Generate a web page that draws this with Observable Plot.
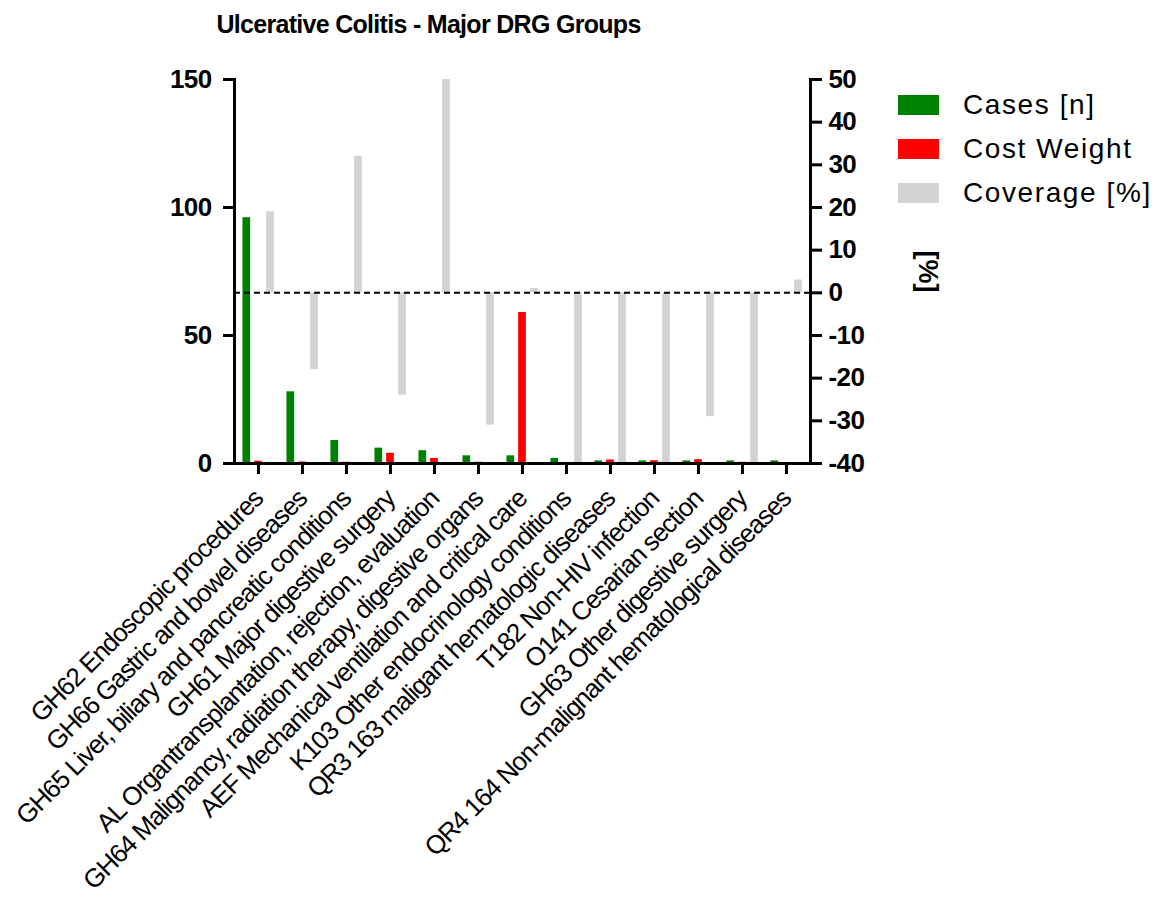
<!DOCTYPE html>
<html>
<head>
<meta charset="utf-8">
<script src="https://cdn.jsdelivr.net/npm/d3@7"></script>
<script src="https://cdn.jsdelivr.net/npm/@observablehq/plot@0.6"></script>
<style>
  html, body { margin: 0; padding: 0; background: #fff; }
  body { width: 1157px; height: 901px; position: relative; overflow: hidden; font-family: "Liberation Sans", Arial, sans-serif; }
  #title { position: absolute; left: 0; width: 857px; top: 12px; text-align: center; font-size: 25px; line-height: 25px; letter-spacing: -0.7px; font-weight: bold; color: #000; }
  #chart { position: absolute; left: 0; top: 0; }
  .sw { position: absolute; left: 898px; width: 41px; height: 20px; }
  .lt { position: absolute; left: 963px; font-size: 28px; line-height: 28px; letter-spacing: 1.6px; color: #000; white-space: nowrap; }
  g[aria-label="x-axis tick label"] text { letter-spacing: -1.2px; }
  g[aria-label="y-axis tick label"] text { letter-spacing: -0.6px; }
</style>
</head>
<body>
<div id="title">Ulcerative Colitis - Major DRG Groups</div>
<div id="chart"></div>
<div id="legend"></div>
<script>
const categories = [
  "GH62 Endoscopic procedures",
  "GH66 Gastric and bowel diseases",
  "GH65 Liver, biliary and pancreatic conditions",
  "GH61 Major digestive surgery",
  "AL Organtransplantation, rejection, evaluation",
  "GH64 Malignancy, radiation therapy, digestive organs",
  "AEF Mechanical ventilation and critical care",
  "K103 Other endocrinology conditions",
  "QR3 163 maligant hematologic diseases",
  "T182 Non-HIV infection",
  "O141 Cesarian section",
  "GH63 Other digestive surgery",
  "QR4 164 Non-malignant hematological diseases"
];
const cases      = [96, 28, 9, 6, 5, 3, 3, 2, 1, 1, 1, 1, 1];
const costWeight = [0.9, 0.6, 0.5, 4, 2, 0.5, 59, 0.4, 1.4, 1.1, 1.5, 0.5, 0.3];
const coverage   = [19, -18, 32, -24, 50, -31, 1, -40, -40, -40, -29, -40, 3];

const leftTicks  = [0, 50, 100, 150];
const rightTicks = [-40, -30, -20, -10, 0, 10, 20, 30, 40, 50];

const seriesNames  = ["Cases [n]", "Cost Weight", "Coverage [%]"];
const seriesColors = ["#008000", "#ff0000", "#d3d3d3"];

// map right-axis (%) values onto the left-axis scale domain
const leftMin = 0, leftMax = 150, rightMin = -40, rightMax = 50;
const toLeft = v => leftMin + (v - rightMin) * (leftMax - leftMin) / (rightMax - rightMin);
const fromLeft = y => Math.round(rightMin + (y - leftMin) * (rightMax - rightMin) / (leftMax - leftMin));

const rows = categories.map((c, i) => ({cat: c, cases: cases[i], cost: costWeight[i], cov: coverage[i]}));

const W = 1157, H = 901;
const mL = 234, mR = W - 810, mT = 79, mB = H - 463;
const band = (W - mL - mR) / categories.length;
const barW = 8;
const inset = (band - barW) / 2;

const font = "Liberation Sans, Arial, sans-serif";

const plot = Plot.plot({
  width: W,
  height: H,
  marginLeft: mL,
  marginRight: mR,
  marginTop: mT,
  marginBottom: mB,
  style: {fontFamily: font, color: "#000", background: "transparent"},
  x: {type: "band", domain: categories, padding: 0},
  y: {domain: [leftMin, leftMax]},
  marks: [
    Plot.barY(rows, {x: "cat", y1: () => toLeft(0), y2: d => toLeft(d.cov), fill: seriesColors[2], insetLeft: inset, insetRight: inset, dx: 12}),
    Plot.barY(rows, {x: "cat", y: "cases", fill: seriesColors[0], insetLeft: inset, insetRight: inset, dx: -11.7}),
    Plot.barY(rows, {x: "cat", y: "cost", fill: seriesColors[1], insetLeft: inset, insetRight: inset, dx: 0}),
    Plot.ruleY([toLeft(0)], {stroke: "#000", strokeWidth: 2, strokeDasharray: "6,4"}),
    Plot.ruleY([0], {stroke: "#000", strokeWidth: 3}),
    Plot.frame({anchor: "left", stroke: "#000", strokeWidth: 3}),
    Plot.frame({anchor: "right", stroke: "#000", strokeWidth: 3}),
    Plot.axisY(leftTicks, {anchor: "left", tickSize: 11, tickPadding: 12, strokeWidth: 3, fontSize: 26, fontWeight: "bold", label: null}),
    Plot.axisY(rightTicks.map(toLeft), {anchor: "right", tickSize: 11, tickPadding: 7, strokeWidth: 3, fontSize: 26, fontWeight: "bold", tickFormat: d => String(fromLeft(d)), label: null}),
    Plot.axisX({anchor: "bottom", tickSize: 11, strokeWidth: 3, tickRotate: -45, fontSize: 26, tickPadding: 20, label: null}),
    Plot.text(["[%]"], {frameAnchor: "right", textAnchor: "middle", dx: 117, rotate: 90, fontSize: 27, fontWeight: "bold"})
  ]
});
document.getElementById("chart").appendChild(plot);

const legend = document.getElementById("legend");
seriesNames.forEach((name, i) => {
  const sw = document.createElement("div");
  sw.className = "sw";
  sw.style.top = (95 + 44 * i) + "px";
  sw.style.background = seriesColors[i];
  legend.appendChild(sw);
  const t = document.createElement("div");
  t.className = "lt";
  t.style.top = (91 + 44 * i) + "px";
  t.textContent = name;
  legend.appendChild(t);
});
</script>
</body>
</html>
